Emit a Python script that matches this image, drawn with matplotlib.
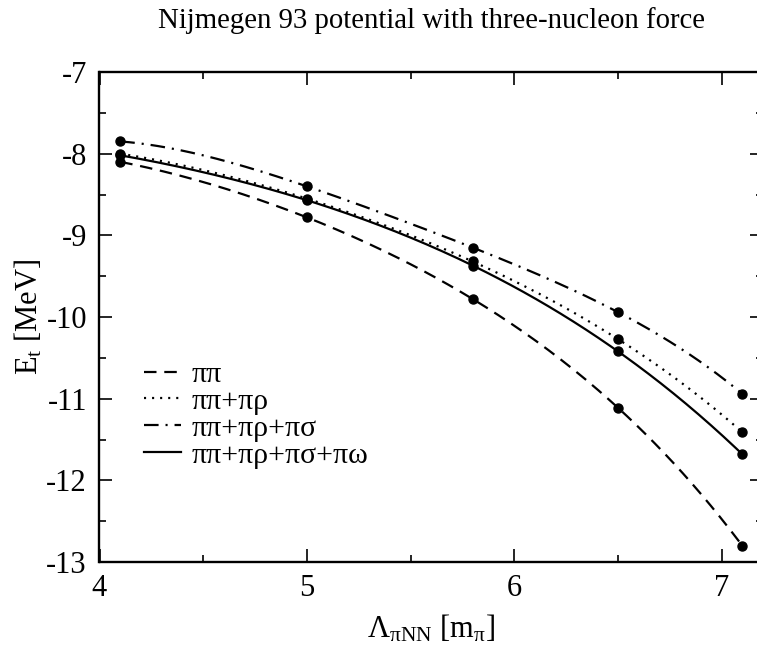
import numpy as np
import matplotlib
matplotlib.use("Agg")
import matplotlib.pyplot as plt
from matplotlib.ticker import MultipleLocator

plt.rcParams['font.family'] = ['Liberation Serif', 'DejaVu Serif']
plt.rcParams['mathtext.fontset'] = 'custom'
plt.rcParams['mathtext.rm'] = 'Liberation Serif'
plt.rcParams['mathtext.it'] = 'Liberation Serif'
plt.rcParams['axes.unicode_minus'] = False
plt.rcParams['lines.scale_dashes'] = False

# cutoff values and triton binding energies
cutoff = [4.1, 5.0, 5.8, 6.5, 7.1]
e_pipi = [-8.10, -8.78, -9.78, -11.11, -12.80]
e_pirho = [-8.00, -8.55, -9.32, -10.27, -11.41]
e_pisigma = [-7.85, -8.40, -9.15, -9.94, -10.94]
e_piomega = [-8.02, -8.57, -9.37, -10.42, -11.68]

labels = ['ππ', 'ππ+πρ', 'ππ+πρ+πσ', 'ππ+πρ+πσ+πω']
styles = [(0, (9.0, 5.6)), (0, (1.5, 4.3)), (0, (10.5, 5.0, 1.5, 5.0)), '-']

fig = plt.figure(figsize=(7.57, 6.48), dpi=100)
ax = fig.add_axes([99.5 / 757, 1 - 562 / 648, (763 - 99.5) / 757, (562 - 72) / 648])

series = [e_pipi, e_pirho, e_pisigma, e_piomega]
for ys, ls, lab in zip(series, styles, labels):
    # smooth curve through the computed points
    coef = np.polyfit(cutoff, ys, 4)
    xx = np.linspace(cutoff[0], cutoff[-1], 200)
    ax.plot(xx, np.polyval(coef, xx), color='black', lw=1.6, linestyle=ls, label=lab)
    ax.plot(cutoff, ys, 'o', color='black', ms=6.5, label='_nolegend_')

ax.set_xlim(4, 7.2)
ax.set_ylim(-13, -7)
ax.xaxis.set_major_locator(MultipleLocator(1))
ax.xaxis.set_minor_locator(MultipleLocator(0.5))
ax.yaxis.set_major_locator(MultipleLocator(1))
ax.yaxis.set_minor_locator(MultipleLocator(0.5))
ax.tick_params(which='both', direction='in', top=True, right=True, width=1.2, labelsize=22)
ax.tick_params(which='major', length=9.5, pad=9)
ax.tick_params(which='minor', length=4.8)
for sp in ax.spines.values():
    sp.set_linewidth(1.7)

ax.set_xlabel(r'$\Lambda_{\pi\mathrm{NN}}$ [m$_\pi$]', fontsize=22, labelpad=7)
ax.set_ylabel(r'E$_\mathrm{t}$ [MeV]', fontsize=22, labelpad=1)
ax.set_title('Nijmegen 93 potential with three-nucleon force', fontsize=20.7, pad=32)

ax.legend(loc='upper left', bbox_to_anchor=(0.067, 0.41), frameon=False, fontsize=21.5,
          handlelength=1.25, handletextpad=0.35, labelspacing=0.0, borderpad=0,
          borderaxespad=0)

fig.savefig('out.png', dpi=100)
